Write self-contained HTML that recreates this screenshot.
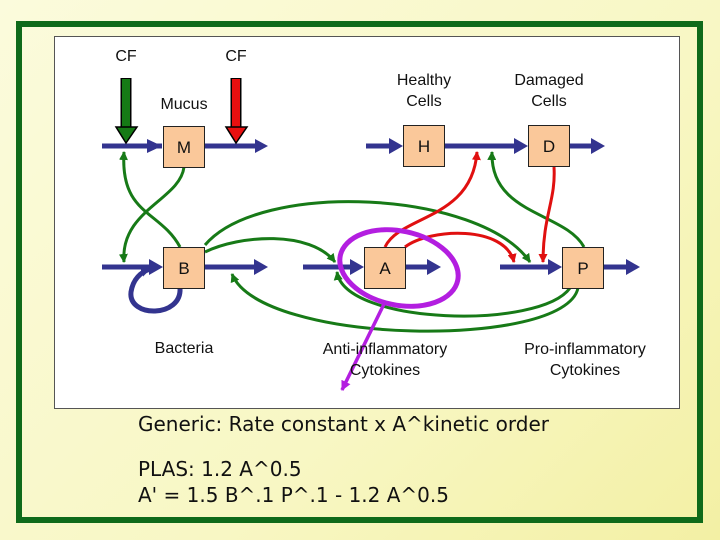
<!DOCTYPE html>
<html><head><style>
html,body{margin:0;padding:0;}
body{width:720px;height:540px;position:relative;overflow:hidden;background:linear-gradient(135deg,#fbfbdc 0%,#f8f7c4 60%,#f3f0a4 100%);font-family:"Liberation Sans",sans-serif;}
.frame{position:absolute;left:16px;top:21px;width:675px;height:490px;border:6px solid #0f6a1a;}
.white{position:absolute;left:54px;top:36px;width:624px;height:371px;background:#fff;border:1px solid #555;}
.t{position:absolute;font-size:16px;color:#111;text-align:center;line-height:21px;}
.b{position:absolute;font-family:"DejaVu Sans",sans-serif;font-size:20px;color:#111;white-space:pre;line-height:24px;}
</style></head><body>
<div class="frame"></div>
<div class="white"></div>
<svg width="720" height="540" style="position:absolute;left:0;top:0">
<defs>
<marker id="bl" markerWidth="10" markerHeight="10" refX="9" refY="5" orient="auto" markerUnits="userSpaceOnUse"><path d="M0,0 L10,5 L0,10z" fill="#33348f"/></marker>
<marker id="gr" markerWidth="9" markerHeight="9" refX="8" refY="4.5" orient="auto" markerUnits="userSpaceOnUse"><path d="M0,0 L9,4.5 L0,9z" fill="#177a17"/></marker>
<marker id="rd" markerWidth="9" markerHeight="9" refX="8" refY="4.5" orient="auto" markerUnits="userSpaceOnUse"><path d="M0,0 L9,4.5 L0,9z" fill="#e01010"/></marker>
<marker id="pu" markerWidth="10" markerHeight="10" refX="9" refY="5" orient="auto" markerUnits="userSpaceOnUse"><path d="M0,0 L10,5 L0,10z" fill="#b31ee0"/></marker>
</defs>
<g stroke="#33348f" stroke-width="5" fill="none">
<line x1="102" y1="146" x2="162" y2="146"/>
<path d="M147,146 L147,139 L162,146 L147,153z" fill="#33348f" stroke="none"/>
<line x1="205" y1="146" x2="258" y2="146"/>
<path d="M255,139 L268,146 L255,153z" fill="#33348f" stroke="none"/>
<line x1="366" y1="146" x2="392" y2="146"/>
<path d="M389,138 L403,146 L389,154z" fill="#33348f" stroke="none"/>
<line x1="445" y1="146" x2="516" y2="146"/>
<path d="M514,138 L528,146 L514,154z" fill="#33348f" stroke="none"/>
<line x1="570" y1="146" x2="592" y2="146"/>
<path d="M591,138 L605,146 L591,154z" fill="#33348f" stroke="none"/>
<line x1="102" y1="267" x2="152" y2="267"/>
<path d="M149,259 L163,267 L149,275z" fill="#33348f" stroke="none"/>
<line x1="205" y1="267" x2="256" y2="267"/>
<path d="M254,259 L268,267 L254,275z" fill="#33348f" stroke="none"/>
<line x1="303" y1="267" x2="352" y2="267"/>
<path d="M350,259 L364,267 L350,275z" fill="#33348f" stroke="none"/>
<line x1="406" y1="267" x2="428" y2="267"/>
<path d="M427,259 L441,267 L427,275z" fill="#33348f" stroke="none"/>
<line x1="500" y1="267" x2="550" y2="267"/>
<path d="M548,259 L562,267 L548,275z" fill="#33348f" stroke="none"/>
<line x1="604" y1="267" x2="628" y2="267"/>
<path d="M626,259 L640,267 L626,275z" fill="#33348f" stroke="none"/>
<path d="M180,288 C182,318 128,318 131,292 C133,279 141,272 150,269" marker-end="url(#bl)"/>
</g>
<g stroke="#177a17" stroke-width="3" fill="none">
<path d="M184,167 C180,200 120,210 124,262" marker-end="url(#gr)"/>
<path d="M180,247 C160,210 120,215 124,152" marker-end="url(#gr)"/>
<path d="M205,245 C260,180 480,190 530,262" marker-end="url(#gr)"/>
<path d="M584,247 C565,212 490,215 492,152" marker-end="url(#gr)"/>
<path d="M205,252 C240,235 310,230 335,262" marker-end="url(#gr)"/>
<path d="M570,288 C540,330 345,325 337,272" marker-end="url(#gr)"/>
<path d="M578,288 C565,350 260,345 232,274" marker-end="url(#gr)"/>
</g>
<g stroke="#e01010" stroke-width="3" fill="none">
<path d="M385,247 C400,215 472,220 477,152" marker-end="url(#rd)"/>
<path d="M405,247 C430,228 505,225 514,262" marker-end="url(#rd)"/>
<path d="M554,167 C556,200 543,215 543,262" marker-end="url(#rd)"/>
</g>
<path d="M126,78 L126,128" stroke="#000" stroke-width="11"/>
<path d="M126,79 L126,129" stroke="#157a15" stroke-width="8"/>
<path d="M116,127 L137,127 L126,143z" fill="#157a15" stroke="#000" stroke-width="1.5"/>
<path d="M236,78 L236,128" stroke="#000" stroke-width="11"/>
<path d="M236,79 L236,129" stroke="#e81010" stroke-width="8"/>
<path d="M226,127 L247,127 L236,143z" fill="#e81010" stroke="#000" stroke-width="1.5"/>
<g fill="#fac89a" stroke="#222" stroke-width="1">
<rect x="163.5" y="126.5" width="41" height="41"/>
<rect x="403.5" y="125.5" width="41" height="41"/>
<rect x="528.5" y="125.5" width="41" height="41"/>
<rect x="163.5" y="247.5" width="41" height="41"/>
<rect x="364.5" y="247.5" width="41" height="41"/>
<rect x="562.5" y="247.5" width="41" height="41"/>
</g>
<g font-family="Liberation Sans,sans-serif" font-size="17" text-anchor="middle" fill="#111">
<text x="184" y="153">M</text><text x="424" y="152">H</text><text x="549" y="152">D</text>
<text x="184" y="274">B</text><text x="385" y="274">A</text><text x="583" y="274">P</text>
</g>
<ellipse cx="399" cy="268" rx="60" ry="37" transform="rotate(12 399 268)" fill="none" stroke="#b31ee0" stroke-width="5"/>
<path d="M385,302 L342,390" stroke="#b31ee0" stroke-width="3.5" fill="none" marker-end="url(#pu)"/>
</svg>
<div class="t" style="left:96px;top:46px;width:60px">CF</div>
<div class="t" style="left:206px;top:46px;width:60px">CF</div>
<div class="t" style="left:144px;top:94px;width:80px">Mucus</div>
<div class="t" style="left:384px;top:70px;width:80px">Healthy<br>Cells</div>
<div class="t" style="left:504px;top:70px;width:90px">Damaged<br>Cells</div>
<div class="t" style="left:134px;top:338px;width:100px">Bacteria</div>
<div class="t" style="left:300px;top:339px;width:170px">Anti-inflammatory<br>Cytokines</div>
<div class="t" style="left:500px;top:339px;width:170px">Pro-inflammatory<br>Cytokines</div>
<div class="b" style="left:138px;top:412px">Generic: Rate constant x A^kinetic order</div>
<div class="b" style="left:138px;top:457px">PLAS: 1.2 A^0.5</div>
<div class="b" style="left:138px;top:483px">A' = 1.5 B^.1 P^.1 - 1.2 A^0.5</div>
</body></html>
